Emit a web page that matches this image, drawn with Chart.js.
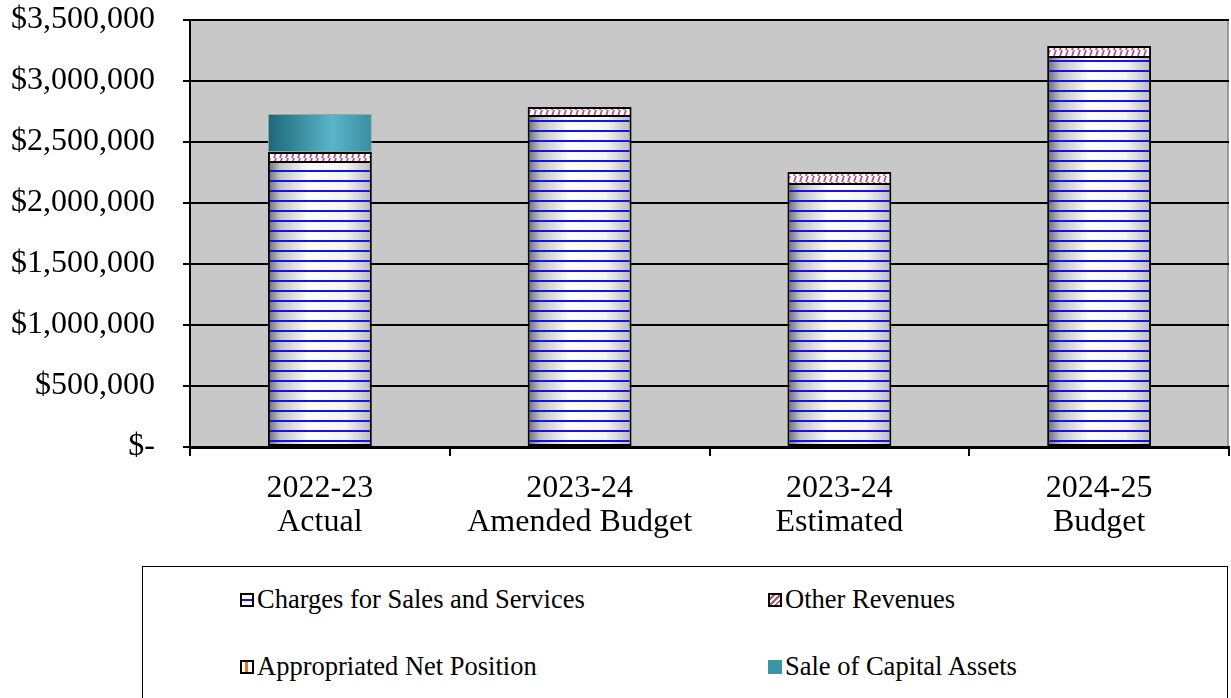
<!DOCTYPE html>
<html>
<head>
<meta charset="utf-8">
<script src="https://cdn.jsdelivr.net/npm/chart.js@4/dist/chart.umd.min.js"></script>
<style>
  html, body { margin: 0; padding: 0; background: #ffffff; }
  #wrap { position: relative; width: 1231px; height: 698px; overflow: hidden; }
  #chart { position: absolute; left: 0; top: 0; }
  #legend {
    position: absolute; left: 142px; top: 566px; width: 1086px; height: 160px;
    border: 1px solid #000; box-sizing: border-box;
    font-family: "Liberation Serif", "Times New Roman", serif; font-size: 26.5px; color: #000;
  }
  .item { position: absolute; display: flex; align-items: center; white-space: nowrap; }
  .sw { width: 14px; height: 14px; box-sizing: border-box; border: 2px solid #000; margin-right: 3px; background: #fff; }
</style>
</head>
<body>
<div id="wrap">
  <canvas id="chart" width="1231" height="560"></canvas>
  <div id="legend"></div>
</div>
<script>
// Revenue categories (two-line axis labels)
const categories = [
  ["2022-23", "Actual"],
  ["2023-24", "Amended Budget"],
  ["2023-24", "Estimated"],
  ["2024-25", "Budget"]
];
// Revenue sources, stacked from the bottom up
const chargesForSales = [2336000, 2713000, 2156000, 3197000];
const otherRevenues = [82000, 74000, 98000, 90000];
const appropriatedNetPosition = [0, 0, 0, 0];
const saleOfCapitalAssets = [312000, 0, 0, 0];
const seriesNames = ["Charges for Sales and Services", "Other Revenues", "Appropriated Net Position", "Sale of Capital Assets"];
const yTicks = [0, 500000, 1000000, 1500000, 2000000, 2500000, 3000000, 3500000];

const BAR_FRACTION = 0.4;
const fillCache = {};

// Builds a repeating fill, one tile per category, so the shading follows each bar column.
function columnFill(kind, chart) {
  const area = chart.chartArea;
  if (!area) return '#ffffff';
  const n = categories.length;
  const cw = area.width / n;
  const key = kind + ':' + area.left + ':' + area.width;
  if (fillCache[key]) return fillCache[key];
  const w = Math.round(cw);
  const bl = (w - cw * BAR_FRACTION) / 2, br = (w + cw * BAR_FRACTION) / 2;
  const tileH = kind === 'charges' ? 10 : (kind === 'other' ? 6 : 4);
  const off = document.createElement('canvas');
  off.width = w; off.height = tileH;
  const c = off.getContext('2d');
  const g = c.createLinearGradient(bl, 0, br, 0);
  if (kind === 'charges') {
    g.addColorStop(0, '#6e6e6e');
    g.addColorStop(0.12, '#c4c4c4');
    g.addColorStop(0.4, '#ffffff');
    g.addColorStop(0.75, '#f4f4f4');
    g.addColorStop(1, '#b8b8b8');
    c.fillStyle = g; c.fillRect(0, 0, w, tileH);
    c.fillStyle = '#1414e6';
    c.fillRect(0, 0, w, 2);
  } else if (kind === 'other') {
    c.fillStyle = '#ffffff'; c.fillRect(0, 0, w, tileH);
    c.strokeStyle = '#b8507e'; c.lineWidth = 1.8;
    for (let x = -12; x < w + 12; x += 6) {
      c.beginPath(); c.moveTo(x, tileH); c.lineTo(x + 2, 0); c.stroke();
    }
  } else {
    g.addColorStop(0, '#1f6677');
    g.addColorStop(0.35, '#3d93a6');
    g.addColorStop(0.62, '#5ab4c8');
    g.addColorStop(1, '#3a8ea1');
    c.fillStyle = g; c.fillRect(0, 0, w, tileH);
  }
  const pat = chart.ctx.createPattern(off, 'repeat');
  pat.setTransform(new DOMMatrix().translate(area.left, area.top));
  fillCache[key] = pat;
  return pat;
}

const plotBackground = {
  id: 'plotBackground',
  beforeDraw(chart) {
    const { ctx, chartArea: a } = chart;
    ctx.save();
    ctx.fillStyle = '#c8c8c8';
    ctx.fillRect(a.left, a.top, a.width, a.height);
    ctx.strokeStyle = '#9a9a9a'; ctx.lineWidth = 2;
    ctx.beginPath(); ctx.moveTo(a.right - 1, a.top); ctx.lineTo(a.right - 1, a.bottom); ctx.stroke();
    ctx.restore();
  },
  afterDraw(chart) {
    const { ctx, chartArea: a } = chart;
    ctx.save();
    ctx.strokeStyle = '#000'; ctx.lineWidth = 2;
    ctx.beginPath(); ctx.moveTo(a.left, a.top); ctx.lineTo(a.right, a.top); ctx.stroke();
    ctx.restore();
  }
};

const serif = "'Liberation Serif', 'Times New Roman', serif";

new Chart(document.getElementById('chart'), {
  type: 'bar',
  data: {
    labels: categories,
    datasets: [
      { label: seriesNames[0], data: chargesForSales, backgroundColor: c => columnFill('charges', c.chart), borderColor: '#000', borderWidth: { top: 1, left: 2, right: 2, bottom: 2 } },
      { label: seriesNames[1], data: otherRevenues, backgroundColor: c => columnFill('other', c.chart), borderColor: '#000', borderWidth: { top: 2, left: 2, right: 2, bottom: 1 } },
      { label: seriesNames[2], data: appropriatedNetPosition, backgroundColor: '#f07020', borderColor: '#000', borderWidth: 0 },
      { label: seriesNames[3], data: saleOfCapitalAssets, backgroundColor: c => columnFill('sale', c.chart), borderColor: '#8aa8b0', borderWidth: 1 }
    ]
  },
  options: {
    responsive: false,
    animation: false,
    layout: { padding: { top: 20, right: 2, left: 0, bottom: 0 } },
    datasets: { bar: { barPercentage: BAR_FRACTION, categoryPercentage: 1, borderSkipped: false } },
    plugins: { legend: { display: false }, tooltip: { enabled: false } },
    scales: {
      x: {
        stacked: true,
        afterFit: s => { s.height = 113; s.paddingLeft = 0; s.paddingRight = 0; },
        grid: { offset: true, drawOnChartArea: false, drawTicks: true, tickLength: 9, color: '#000', lineWidth: 2 },
        border: { display: true, color: '#000', width: 3 },
        ticks: { color: '#000', font: { family: serif, size: 32, lineHeight: 1.07 }, padding: 15, maxRotation: 0, autoSkip: false }
      },
      y: {
        stacked: true,
        min: 0, max: 3500000,
        afterFit: s => { s.width = 190; s.paddingTop = 0; s.paddingBottom = 0; },
        afterBuildTicks: s => { s.ticks = yTicks.map(v => ({ value: v })); },
        grid: { color: '#000', lineWidth: 2, drawTicks: true, tickLength: 7 },
        border: { display: true, color: '#000', width: 2 },
        ticks: {
          color: '#000', padding: 28,
          font: { family: serif, size: 32 },
          callback: v => v === 0 ? '$-' : '$' + Number(v).toLocaleString('en-US')
        }
      }
    }
  },
  plugins: [plotBackground]
});

// Two-column legend below the chart
const legendEl = document.getElementById('legend');
const swatchStyles = [
  'background: linear-gradient(#fff 0 4px, #1414e6 4px 6px, #fff 6px);',
  'background: repeating-linear-gradient(135deg, #fff 0 2px, #b8507e 2px 4px);',
  'background: linear-gradient(90deg, #fff 0 3px, #f07020 3px 6px, #fff 6px);',
  'background: #3a95a8; border: none;'
];
const spots = [[97, 33], [625, 33], [97, 100], [625, 100]];
seriesNames.forEach((name, i) => {
  const it = document.createElement('div');
  it.className = 'item';
  it.style.left = spots[i][0] + 'px';
  it.style.top = (spots[i][1] - 16) + 'px';
  it.innerHTML = '<span class="sw" style="' + swatchStyles[i] + '"></span><span>' + name + '</span>';
  legendEl.appendChild(it);
});
</script>
</body>
</html>
